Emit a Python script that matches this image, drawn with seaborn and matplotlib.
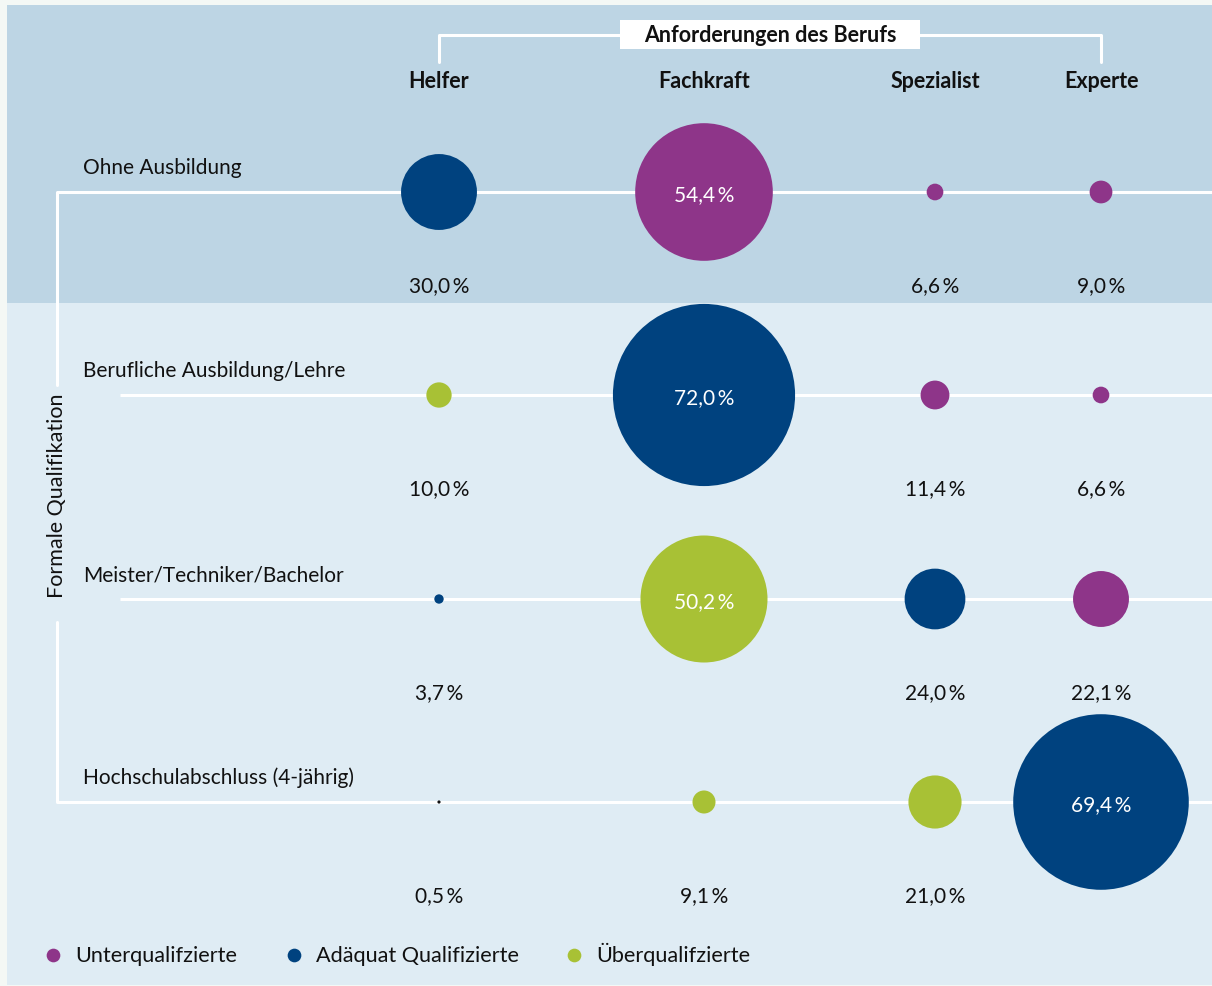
import numpy as np
import pandas as pd
import matplotlib
matplotlib.use("Agg")
import matplotlib.pyplot as plt
import seaborn as sns
from matplotlib.patches import Rectangle

# Daten
qualifikationen = ['Ohne Ausbildung', 'Berufliche Ausbildung/Lehre',
                   'Meister/Techniker/Bachelor', 'Hochschulabschluss (4-jährig)']
anforderungen = ['Helfer', 'Fachkraft', 'Spezialist', 'Experte']
anteile = [
    [30.0, 54.4, 6.6, 9.0],
    [10.0, 72.0, 11.4, 6.6],
    [3.7, 50.2, 24.0, 22.1],
    [0.5, 9.1, 21.0, 69.4],
]
gruppen = [
    ['Adäquat Qualifizierte', 'Unterqualifzierte', 'Unterqualifzierte', 'Unterqualifzierte'],
    ['Überqualifzierte', 'Adäquat Qualifizierte', 'Unterqualifzierte', 'Unterqualifzierte'],
    ['Adäquat Qualifizierte', 'Überqualifzierte', 'Adäquat Qualifizierte', 'Unterqualifzierte'],
    ['ohne', 'Überqualifzierte', 'Überqualifzierte', 'Adäquat Qualifizierte'],
]
legende = ['Unterqualifzierte', 'Adäquat Qualifizierte', 'Überqualifzierte']

# Layout (Pixel)
W, H = 1212, 986
col_x = {'Helfer': 439, 'Fachkraft': 704, 'Spezialist': 935, 'Experte': 1101}
row_y = {q: y for q, y in zip(qualifikationen, [192, 395, 599, 802])}
legend_x = [53, 294, 574]
px_per_pct = 2.53
farben = {'Unterqualifzierte': '#8E3589', 'Adäquat Qualifizierte': '#00427F',
          'Überqualifzierte': '#A8C135', 'ohne': '#111111'}
fs = 15

rows = []
for q, vals, grps in zip(qualifikationen, anteile, gruppen):
    for a, v, g in zip(anforderungen, vals, grps):
        d_pt = max(v * px_per_pct, 3.2) * 0.72
        rows.append({'qual': q, 'anf': a, 'wert': v, 'gruppe': g,
                     'x': col_x[a], 'y': row_y[q], 's': d_pt ** 2})
df = pd.DataFrame(rows)

sns.set_theme(style='white')
plt.rcParams['font.family'] = ['Lato', 'DejaVu Sans']

fig = plt.figure(figsize=(W / 100, H / 100), dpi=100)
ax = fig.add_axes([0, 0, 1, 1])
fig.patch.set_facecolor('#F4F8F5')

# Hintergrundflächen
ax.add_patch(Rectangle((7, 5), W - 7, 298, facecolor='#BDD5E4', edgecolor='none', zorder=0))
ax.add_patch(Rectangle((7, 303), W - 7, 682, facecolor='#DFECF4', edgecolor='none', zorder=0))

# Linien
lw = 2.2
for i, q in enumerate(qualifikationen):
    x0 = 57 if i in (0, 3) else 120
    ax.plot([x0, W], [row_y[q], row_y[q]], color='white', lw=lw, zorder=1, solid_capstyle='butt')
ax.plot([57, 57], [row_y[qualifikationen[0]], 385], color='white', lw=lw, zorder=1)
ax.plot([57, 57], [622, row_y[qualifikationen[3]]], color='white', lw=lw, zorder=1)
ax.text(57, 496, 'Formale Qualifikation', rotation=90, ha='center', va='center',
        fontsize=fs + 0.5, color='#111111')

# obere Klammer
ax.plot([439, 439, 1101, 1101], [62, 35, 35, 62], color='white', lw=lw, zorder=1)
ax.add_patch(Rectangle((620, 20), 300, 29, facecolor='white', edgecolor='none', zorder=2))
ax.text(770, 35, 'Anforderungen des Berufs', ha='center', va='center', fontsize=15.5,
        fontweight='bold', color='#111111', zorder=3)
for a in anforderungen:
    ax.text(col_x[a], 82, a, ha='center', va='center', fontsize=15.5, fontweight='bold',
            color='#111111')

for q in qualifikationen:
    ax.text(83, row_y[q] - 24, q, ha='left', va='center', fontsize=fs, color='#111111')

# Blasen
smin, smax = df['s'].min(), df['s'].max()
sns.scatterplot(data=df, x='x', y='y', hue='gruppe', palette=farben, size='s',
                sizes=(smin, smax), size_norm=(smin, smax), linewidth=0,
                alpha=1, legend=False, ax=ax, zorder=2)

for _, r in df.iterrows():
    txt = f"{r['wert']:.1f}".replace('.', ',') + '\u2009%'
    if r['wert'] > 40:
        ax.text(r['x'], r['y'] + 3, txt, ha='center', va='center', fontsize=fs,
                color='white', zorder=3)
    else:
        ax.text(r['x'], r['y'] + 94, txt, ha='center', va='center', fontsize=fs,
                color='#111111', zorder=3)

# Legende
for lx, g in zip(legend_x, legende):
    ax.scatter([lx], [955], s=(12 * 0.72) ** 2 * 1.3, color=farben[g], linewidth=0, zorder=3)
    ax.text(lx + 22, 961.5, g, ha='left', va='baseline', fontsize=15.6, color='#111111')

ax.set_xlim(0, W)
ax.set_ylim(H, 0)
ax.axis('off')

fig.savefig('out.png', dpi=100, facecolor=fig.get_facecolor())
